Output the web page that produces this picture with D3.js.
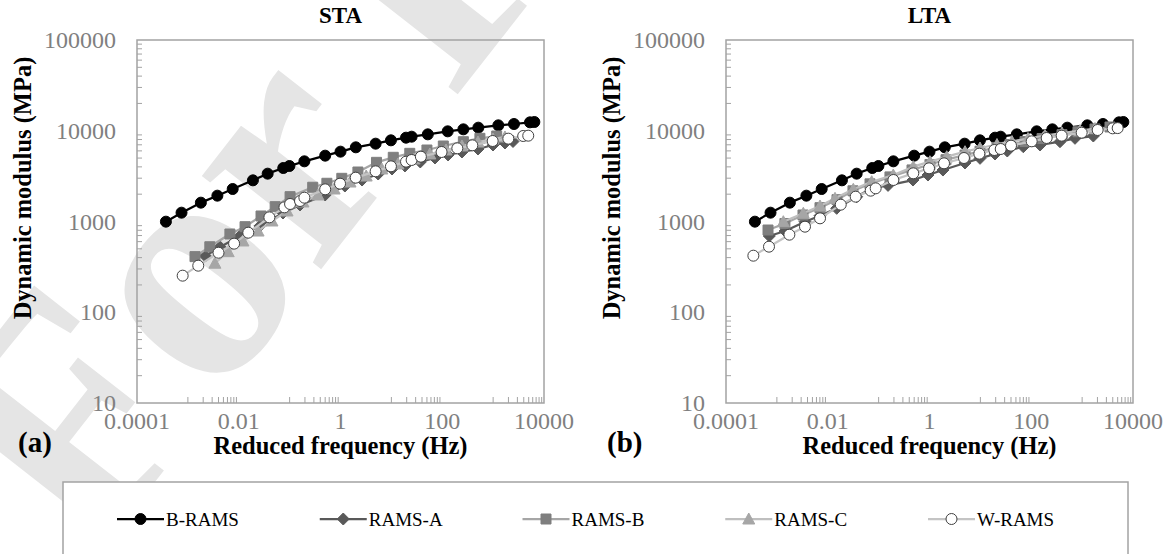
<!DOCTYPE html>
<html><head><meta charset="utf-8">
<script src="https://cdn.jsdelivr.net/npm/d3@7"></script>
<style>body{margin:0;background:#fff}svg{display:block}</style>
</head><body><svg id="c" width="1164" height="554"></svg>
<script>
// ---- data ----
const seriesNames = ["B-RAMS","RAMS-A","RAMS-B","RAMS-C","W-RAMS"];
const panelTitles = ["STA","LTA"];
const panelTags = ["(a)","(b)"];
const xTickValues = [1e-4,1e-2,1,1e2,1e4];
const xTickLabels = ["0.0001","0.01","1","100","10000"];
const yTickValues = [10,100,1000,10000,100000];
const yTickLabels = ["10","100","1000","10000","100000"];

// B-RAMS (same in both panels)
const bramsFreq = [0.00037,0.00075,0.0018,0.0038,0.0076,0.019,0.037,0.075,0.099,0.195,0.5,1,2,4.9,9.8,19.4,25,52,128,260,512,1266,2570,5300,6460];
const bramsMod  = [996,1251,1613,1926,2281,2842,3366,3886,4089,4603,5314,5884,6568,7206,7843,8389,8604,9130,9854,10366,10814,11472,11867,12380,12485];

// STA
const staAFreq = [0.0022,0.0043,0.0106,0.026,0.074,0.16,0.5,1.22,2.65,5.5,10.3,18.5,37,72,130,244,504,995,1710,2460];
const staAMod  = [417,524,692,891,1240,1521,1960,2460,2864,3337,3790,4093,4529,5012,5408,5834,6295,6966,7330,7617];
const staBFreq = [0.00138,0.0027,0.0067,0.0133,0.0274,0.052,0.102,0.284,0.54,1.06,2.2,5.1,10.9,23,50,105,260,550,1175];
const staBMod  = [410,527,728,877,1150,1457,1878,2385,2638,2991,3510,4487,5097,5637,6135,6792,7575,8254,8750];
const staCFreq = [0.0034,0.0062,0.0121,0.024,0.045,0.089,0.183,0.36,0.75,1.54,3.2,6.5,13.5,28,57,119,244,504,995,1710];
const staCMod  = [347,465,610,785,1013,1306,1641,1960,2281,2723,3170,3790,4305,4887,5547,6135,6792,7510,8110,8537];
const staWFreq = [0.00079,0.0016,0.004,0.0081,0.0154,0.04,0.079,0.102,0.16,0.195,0.5,0.98,1.99,4.9,9.8,19.4,25,38,97,198,390,980,1990,3900,4900];
const staWMod  = [253,326,453,570,753,1111,1432,1559,1682,1830,2262,2612,3041,3571,4054,4564,4762,5180,5833,6401,6907,7711,8180,8753,8826];

// LTA
const ltaAFreq = [0.00071,0.00145,0.00357,0.00705,0.015,0.037,0.073,0.153,0.474,0.934,1.84,4.98,9.84,19.4,33.8,69.8,149,367,724,1660];
const ltaAMod  = [692,785,995,1159,1397,1874,2322,2500,2864,3252,3690,4417,4967,5547,5985,6668,6966,7575,8254,8750];
const ltaBFreq = [0.00067,0.00144,0.00326,0.00704,0.0152,0.0313,0.0677,0.167,0.453,1.02,2.11,4.99,9.83,21.2,38.2,75.4,163,402,830,1790,3530];
const ltaBMod  = [806,950,1180,1420,1740,2180,2600,3100,3700,4250,4800,5400,5950,6550,7050,7600,8200,9050,9750,10450,11000];
const ltaCFreq = [0.00134,0.00331,0.00704,0.0139,0.0318,0.0731,0.194,0.48,1.02,2.18,4.99,9.83,21.2,41.8,86.3,186,402,908,1791];
const ltaCMod  = [995,1231,1482,1801,2263,2745,3253,4017,4560,5176,5876,6455,7056,7610,8215,8865,9445,10064,10588];
const ltaWFreq = [0.000345,0.0007,0.00176,0.00357,0.00705,0.018,0.0354,0.0698,0.0875,0.195,0.48,0.98,1.93,4.76,9.54,18.8,25.1,40,102,201,396,980,2020,3990,5000];
const ltaWMod  = [420,528,716,877,1084,1533,1878,2187,2320,2867,3395,3854,4375,5008,5592,6136,6293,6847,7645,8321,8826,9526,10193,10631,10700];

// ---- styles ----
const styles = {
  "B-RAMS": {line:"#000000", fill:"#000000", stroke:"#000000", shape:"circle"},
  "RAMS-A": {line:"#595959", fill:"#595959", stroke:"#595959", shape:"diamond"},
  "RAMS-B": {line:"#a6a6a6", fill:"#7f7f7f", stroke:"#7f7f7f", shape:"square"},
  "RAMS-C": {line:"#bfbfbf", fill:"#a6a6a6", stroke:"#a6a6a6", shape:"triangle"},
  "W-RAMS": {line:"#c4c4c4", fill:"#ffffff", stroke:"#404040", shape:"ocircle"}
};
function markerPath(shape){
  switch(shape){
    case "circle": case "ocircle": return "M5.5,0A5.5,5.5 0 1,1 -5.5,0A5.5,5.5 0 1,1 5.5,0Z";
    case "diamond": return "M0,-6L6,0L0,6L-6,0Z";
    case "square": return "M-5,-5H5V5H-5Z";
    case "triangle": return "M0,-6L6,5L-6,5Z";
  }
}

const panels = [
  {x0:137, x1:544, series:[[bramsFreq,bramsMod],[staAFreq,staAMod],[staBFreq,staBMod],[staCFreq,staCMod],[staWFreq,staWMod]]},
  {x0:726, x1:1133, series:[[bramsFreq,bramsMod],[ltaAFreq,ltaAMod],[ltaBFreq,ltaBMod],[ltaCFreq,ltaCMod],[ltaWFreq,ltaWMod]]}
];
const yTop = 40, yBot = 403;
const serif = "Liberation Serif, Times New Roman, serif";
const svg = d3.select("#c");

// watermark
svg.append("text").attr("transform","translate(90,565) rotate(-52)")
  .attr("font-family",serif).attr("font-weight","bold").attr("font-size",330)
  .attr("fill","#e5e5e5").text("For Peer Review");

panels.forEach((p,pi)=>{
  const x = d3.scaleLog().domain([1e-4,1e4]).range([p.x0,p.x1]);
  const y = d3.scaleLog().domain([10,1e5]).range([yBot,yTop]);
  const g = svg.append("g");
  const axisCol = "#a3a3a3";
  g.append("rect").attr("x",p.x0).attr("y",yTop).attr("width",p.x1-p.x0).attr("height",yBot-yTop)
   .attr("fill","none").attr("stroke",axisCol).attr("stroke-width",1.5);
  const xMinor=[];
  [-3,-1,1,3].forEach(e=>{for(let m=1;m<=9;m++) xMinor.push(m*Math.pow(10,e));});
  g.selectAll(".xm").data(xMinor).join("line")
   .attr("x1",d=>x(d)).attr("x2",d=>x(d)).attr("y1",yBot).attr("y2",yBot-6)
   .attr("stroke",axisCol).attr("stroke-width",1);
  const yMinor=[];
  [1,2,3,4].forEach(e=>{for(let m=2;m<=9;m++) yMinor.push(m*Math.pow(10,e));});
  g.selectAll(".ym").data(yMinor).join("line")
   .attr("x1",p.x0).attr("x2",p.x0+5).attr("y1",d=>y(d)).attr("y2",d=>y(d))
   .attr("stroke",axisCol).attr("stroke-width",1);
  g.selectAll(".xl").data(xTickValues).join("text")
   .attr("x",d=>x(d)).attr("y",yBot+26).attr("text-anchor","middle")
   .attr("font-family",serif).attr("font-size",24).attr("fill","#808080")
   .text((d,i)=>xTickLabels[i]);
  g.selectAll(".yl").data(yTickValues).join("text")
   .attr("x",p.x0-21).attr("y",d=>y(d)+8).attr("text-anchor","end")
   .attr("font-family",serif).attr("font-size",24).attr("fill","#808080")
   .text((d,i)=>yTickLabels[i]);
  const cx=(p.x0+p.x1)/2;
  g.append("text").attr("x",cx).attr("y",23).attr("text-anchor","middle")
   .attr("font-family",serif).attr("font-weight","bold").attr("font-size",23).text(panelTitles[pi]);
  g.append("text").attr("x",cx).attr("y",454).attr("text-anchor","middle")
   .attr("font-family",serif).attr("font-weight","bold").attr("font-size",24.5).text("Reduced frequency (Hz)");
  g.append("text").attr("transform",`translate(${p.x0-106},188) rotate(-90)`)
   .attr("text-anchor","middle")
   .attr("font-family",serif).attr("font-weight","bold").attr("font-size",24.5).text("Dynamic modulus (MPa)");
  g.append("text").attr("x",p.x0-119).attr("y",452)
   .attr("font-family",serif).attr("font-weight","bold").attr("font-size",29).text(panelTags[pi]);
  const line = d3.line().x(d=>x(d[0])).y(d=>y(d[1]));
  p.series.forEach((s,si)=>{
    const st = styles[seriesNames[si]];
    const pts = s[0].map((f,i)=>[f,s[1][i]]);
    g.append("path").datum(pts).attr("d",line).attr("fill","none")
     .attr("stroke",st.line).attr("stroke-width",2.25).attr("stroke-linejoin","round");
    g.selectAll(null).data(pts).join("path")
     .attr("transform",d=>`translate(${x(d[0])},${y(d[1])})`)
     .attr("d",markerPath(st.shape)).attr("fill",st.fill).attr("stroke",st.stroke).attr("stroke-width",1);
  });
});

// legend
const lg = svg.append("g");
lg.append("rect").attr("x",63).attr("y",482).attr("width",1065).attr("height",80)
  .attr("fill","#fff").attr("stroke","#a3a3a3").attr("stroke-width",1.5);
const legX = d3.scalePoint().domain(seriesNames).range([117,928]);
seriesNames.forEach(n=>{
  const st = styles[n], lx = legX(n), ly = 519;
  lg.append("line").attr("x1",lx).attr("x2",lx+47).attr("y1",ly).attr("y2",ly)
    .attr("stroke",st.line).attr("stroke-width",2.25);
  lg.append("path").attr("transform",`translate(${lx+23.5},${ly})`).attr("d",markerPath(st.shape))
    .attr("fill",st.fill).attr("stroke",st.stroke).attr("stroke-width",1);
  lg.append("text").attr("x",lx+49).attr("y",ly+7)
    .attr("font-family",serif).attr("font-size",19).text(n);
});
</script></body></html>
